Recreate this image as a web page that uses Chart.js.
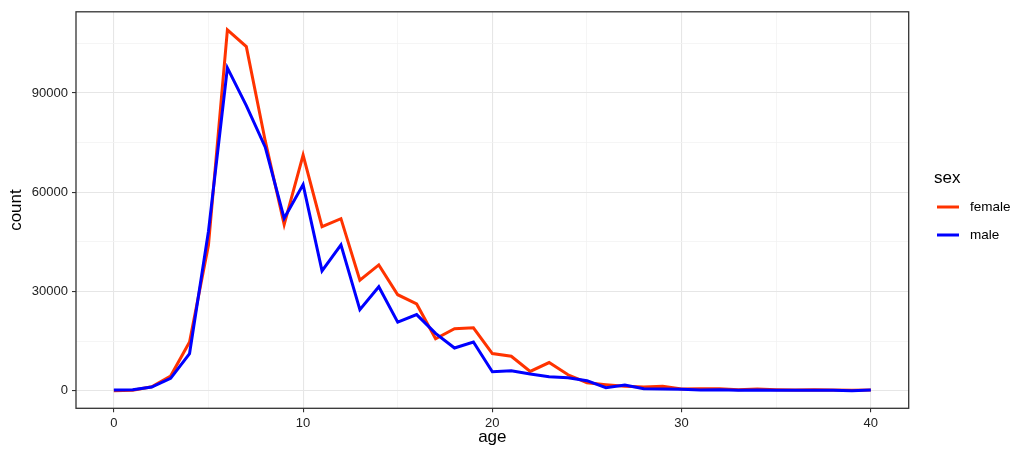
<!DOCTYPE html>
<html>
<head>
<meta charset="utf-8">
<script src="https://cdn.jsdelivr.net/npm/chart.js@4.4.0/dist/chart.umd.min.js"></script>
<style>
  html, body { margin: 0; padding: 0; background: #fff; }
  #wrap { position: relative; width: 1016px; height: 455px; }
</style>
</head>
<body>
<div id="wrap"><canvas id="ageChart"></canvas></div>
<script>
// ages on the x axis
const ages = [0, 1, 2, 3, 4, 5, 6, 7, 8, 9, 10, 11, 12, 13, 14, 15, 16, 17, 18, 19, 20,
  21, 22, 23, 24, 25, 26, 27, 28, 29, 30, 31, 32, 33, 34, 35, 36, 37, 38, 39, 40];

// counts
const femaleCounts = [0, 100, 1150, 4400, 14700, 44000, 109100, 104000, 75500, 50200, 71200,
  49600, 52000, 33400, 38000, 29000, 26200, 15700, 18700, 19000, 11200,
  10400, 5800, 8500, 4800, 2400, 1800, 1300, 1100, 1300, 500,
  600, 600, 300, 500, 300, 200, 300, 200, 100, 200];
const maleCounts = [200, 300, 1100, 3700, 11200, 48200, 97600, 86200, 73600, 52100, 62300,
  36200, 44100, 24500, 31400, 20700, 23000, 17300, 12900, 14700, 5700,
  6000, 5000, 4200, 3900, 3000, 900, 1700, 600, 500, 400,
  200, 300, 100, 200, 100, 100, 100, 100, 0, 200];

// gridlines every 5 / 15000, labels on the major ones
const xTicks = [0, 5, 10, 15, 20, 25, 30, 35, 40];
const yTicks = [0, 15000, 30000, 45000, 60000, 75000, 90000, 105000];

const FONT = "'Liberation Sans', Arial, sans-serif";
const MAJOR = '#e6e6e6';
const MINOR = '#f2f2f2';

const toPoints = (vals) => ages.map((a, i) => ({ x: a, y: vals[i] }));

// frame around the panel (panel.border)
const panelBorder = {
  id: 'panelBorder',
  afterDatasetsDraw(chart) {
    const { ctx, chartArea: a } = chart;
    ctx.save();
    ctx.strokeStyle = '#333333';
    ctx.lineWidth = 1.3;
    ctx.strokeRect(a.left, a.top, a.right - a.left, a.bottom - a.top);
    ctx.restore();
  }
};

// ggplot style legend on the right
const sideLegend = {
  id: 'sideLegend',
  afterDraw(chart) {
    const ctx = chart.ctx;
    ctx.save();
    ctx.fillStyle = '#000';
    ctx.textBaseline = 'middle';
    ctx.font = '17px ' + FONT;
    ctx.fillText('sex', 934, 178);
    const items = chart.data.datasets.slice().sort((p, q) => p.label.localeCompare(q.label));
    items.forEach((ds, i) => {
      const y = 207 + i * 28;
      ctx.strokeStyle = ds.borderColor;
      ctx.lineWidth = 3;
      ctx.beginPath();
      ctx.moveTo(937, y);
      ctx.lineTo(959, y);
      ctx.stroke();
      ctx.font = '13.5px ' + FONT;
      ctx.fillStyle = '#000';
      ctx.fillText(ds.label, 970, y);
    });
    ctx.restore();
  }
};

const isMajorX = (v) => v % 10 === 0;
const isMajorY = (v) => v % 30000 === 0;

new Chart(document.getElementById('ageChart'), {
  type: 'line',
  data: {
    datasets: [
      {
        label: 'female',
        data: toPoints(femaleCounts),
        borderColor: '#ff3300',
        borderWidth: 3,
        pointRadius: 0,
        tension: 0,
        order: 1
      },
      {
        label: 'male',
        data: toPoints(maleCounts),
        borderColor: '#0000ff',
        borderWidth: 3,
        pointRadius: 0,
        tension: 0,
        order: 0
      }
    ]
  },
  options: {
    responsive: true,
    maintainAspectRatio: false,
    animation: false,
    layout: { padding: { left: 0, top: 8.7, right: 107.3, bottom: 0 } },
    plugins: {
      legend: { display: false },
      tooltip: { enabled: false }
    },
    scales: {
      x: {
        type: 'linear',
        min: -2,
        max: 42,
        afterBuildTicks: (scale) => { scale.ticks = xTicks.map(v => ({ value: v })); },
        afterFit: (scale) => { scale.height = 46.7; },
        border: { display: false },
        grid: {
          color: (c) => isMajorX(c.tick.value) ? MAJOR : MINOR,
          tickColor: (c) => isMajorX(c.tick.value) ? '#333' : 'rgba(0,0,0,0)',
          lineWidth: (c) => isMajorX(c.tick.value) ? 1.1 : 0.8,
          tickLength: 4
        },
        ticks: {
          autoSkip: false,
          maxRotation: 0,
          padding: 3,
          color: '#222',
          font: { family: FONT, size: 13 },
          callback: (v) => isMajorX(v) ? String(v) : ''
        },
        title: {
          display: true,
          text: 'age',
          color: '#000',
          font: { family: FONT, size: 17 },
          padding: { top: 0, bottom: 7 }
        }
      },
      y: {
        min: -5340,
        max: 114540,
        afterBuildTicks: (scale) => { scale.ticks = yTicks.map(v => ({ value: v })); },
        afterFit: (scale) => { scale.width = 76; },
        border: { display: false },
        grid: {
          color: (c) => isMajorY(c.tick.value) ? MAJOR : MINOR,
          tickColor: (c) => isMajorY(c.tick.value) ? '#333' : 'rgba(0,0,0,0)',
          lineWidth: (c) => isMajorY(c.tick.value) ? 1.1 : 0.8,
          tickLength: 4
        },
        ticks: {
          autoSkip: false,
          padding: 4,
          color: '#222',
          font: { family: FONT, size: 13 },
          callback: (v) => isMajorY(v) ? String(v) : ''
        },
        title: {
          display: true,
          text: 'count',
          color: '#000',
          font: { family: FONT, size: 17 },
          padding: { top: 6, bottom: 0 }
        }
      }
    }
  },
  plugins: [panelBorder, sideLegend]
});
</script>
</body>
</html>
